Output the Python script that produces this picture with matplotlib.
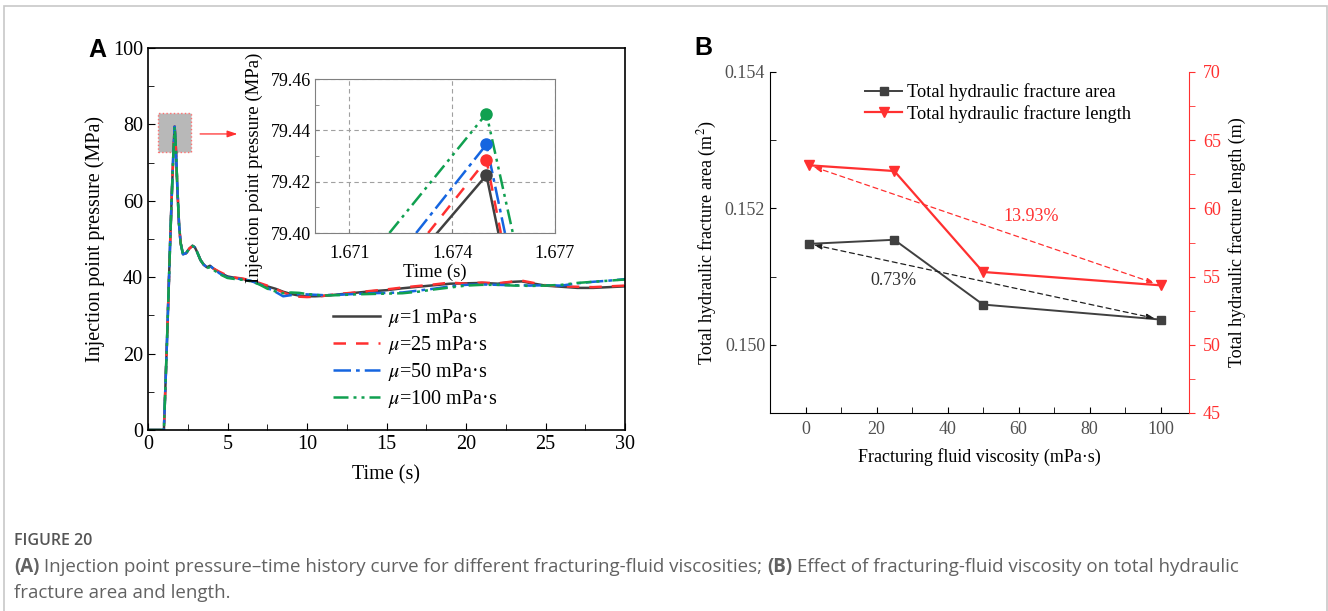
import matplotlib
matplotlib.use('Agg')
import matplotlib.pyplot as plt
from matplotlib.patches import Rectangle
from matplotlib.ticker import MultipleLocator

plt.rcParams['font.family'] = ['Liberation Serif', 'DejaVu Serif']
plt.rcParams['mathtext.fontset'] = 'stix'

# ---------------- data: panel A ----------------
time_s = [0, 1.0, 1.1, 1.2, 1.3, 1.4, 1.5, 1.6, 1.675, 1.75, 1.85, 1.95, 2.05, 2.2, 2.4,
          2.6, 2.8, 2.95, 3.1, 3.3, 3.5, 3.7, 3.9, 4.1, 4.5, 5, 5.5, 6, 6.5, 7, 7.5, 8,
          8.5, 9, 9.5, 10, 10.5, 11, 12, 13, 14, 15, 16, 17, 18, 19, 20, 21, 22, 23,
          23.5, 24, 25, 26, 27, 28, 29, 30]
p_mu1 = [0, 0, 12, 24, 37, 50, 62, 73, 79.42, 74, 63, 54, 49, 46, 46.3,
         47.5, 48.2, 47.8, 46.5, 44.5, 43.3, 42.6, 43.0, 42.3, 41.2, 40.2, 39.8, 39.5, 39.0, 38.3, 37.6, 37.0,
         36.2, 35.6, 35.2, 35.0, 35.0, 35.1, 35.5, 35.9, 36.3, 36.6, 37.1, 37.5, 37.9, 38.3, 38.4, 38.5, 38.3, 38.8,
         38.9, 38.5, 37.8, 37.5, 37.2, 37.2, 37.4, 37.6]
p_mu25 = [0, 0, 12, 24, 37, 50, 62, 73, 79.43, 74, 63, 54, 49, 46, 46.3,
          47.5, 48.2, 47.8, 46.5, 44.5, 43.3, 42.6, 43.0, 42.3, 41.4, 40.4, 39.9, 39.6, 39.1, 38.5, 37.8, 37.0,
          36.0, 35.2, 34.9, 34.8, 34.9, 35.1, 35.6, 36.0, 36.4, 36.8, 37.3, 37.7, 38.1, 38.6, 38.3, 38.6, 38.4, 38.9,
          39.1, 38.7, 37.9, 37.6, 37.5, 37.4, 37.6, 37.8]
p_mu50 = [0, 0, 12, 24, 37, 50, 62, 73, 79.43, 74, 63, 54, 49, 46, 46.3,
          47.5, 48.2, 47.8, 46.5, 44.5, 43.3, 42.6, 43.0, 42.3, 41.0, 39.9, 39.7, 39.4, 39.0, 38.2, 37.2, 36.2,
          35.0, 35.3, 35.6, 35.5, 35.4, 35.3, 35.4, 35.6, 35.8, 35.9, 36.0, 36.5, 37.0, 37.6, 38.0, 38.1, 38.0, 37.9,
          37.9, 37.8, 37.9, 37.8, 38.4, 38.8, 39.1, 39.5]
p_mu100 = [0, 0, 12, 24, 37, 50, 62, 73, 79.45, 74, 63, 54, 49, 46, 46.3,
           47.5, 48.2, 47.8, 46.5, 44.5, 43.3, 42.4, 42.6, 42.0, 40.8, 39.8, 39.5, 39.3, 38.9, 38.1, 37.0, 36.3,
           35.8, 36.0, 35.9, 35.6, 35.4, 35.2, 35.3, 35.5, 35.6, 35.7, 35.8, 36.2, 36.8, 37.3, 37.8, 38.0, 38.0, 37.8,
           37.8, 37.7, 37.8, 38.0, 38.5, 38.8, 39.1, 39.4]

# inset (zoom on the peak)
inset_t_mu1 = [1.67356, 1.67500, 1.67535]
inset_p_mu1 = [79.400, 79.4225, 79.400]
inset_t_mu25 = [1.67330, 1.67500, 1.67542]
inset_p_mu25 = [79.400, 79.4285, 79.400]
inset_t_mu50 = [1.67295, 1.67500, 1.67554]
inset_p_mu50 = [79.400, 79.4345, 79.400]
inset_t_mu100 = [1.67217, 1.67500, 1.67577]
inset_p_mu100 = [79.400, 79.4465, 79.400]

legend_A = [r'$\mu$=1 mPa·s', r'$\mu$=25 mPa·s', r'$\mu$=50 mPa·s', r'$\mu$=100 mPa·s']

# ---------------- data: panel B ----------------
viscosity = [1, 25, 50, 100]
frac_area = [0.15148, 0.15154, 0.15059, 0.15037]
frac_length = [63.16, 62.74, 55.34, 54.36]
area_change_label = '0.73%'
length_change_label = '13.93%'

caption_title = 'FIGURE 20'

c_black = '#404040'
c_red = '#ff3030'
c_blue = '#1565e0'
c_green = '#10a050'

fig = plt.figure(figsize=(13.28, 6.11), dpi=100)
W, H = 1328, 611

def fr(x0, y0, x1, y1):
    return [x0 / W, 1 - y1 / H, (x1 - x0) / W, (y1 - y0) / H]

# ---------------- panel A ----------------
axA = fig.add_axes(fr(148, 48, 625, 430))
styles = [
    dict(color=c_black, ls='-'),
    dict(color=c_red, ls=(0, (5, 4))),
    dict(color=c_blue, ls=(0, (7, 2, 1.5, 2))),
    dict(color=c_green, ls=(0, (6, 2, 1.2, 2, 1.2, 2))),
]
series = [p_mu1, p_mu25, p_mu50, p_mu100]
handles = []
for p, st, lab in zip(series, styles, legend_A):
    h, = axA.plot(time_s, p, lw=1.8, label=lab, **st)
    handles.append(h)
axA.set_xlim(0, 30)
axA.set_ylim(0, 100)
axA.xaxis.set_major_locator(MultipleLocator(5))
axA.xaxis.set_minor_locator(MultipleLocator(2.5))
axA.yaxis.set_major_locator(MultipleLocator(20))
axA.yaxis.set_minor_locator(MultipleLocator(10))
axA.tick_params(which='both', direction='in', labelsize=14.5)
axA.tick_params(which='major', length=5)
axA.tick_params(which='minor', length=4)
axA.set_xlabel('Time (s)', fontsize=14.5, labelpad=8)
axA.set_ylabel('Injection point pressure (MPa)', fontsize=14.5, labelpad=6)
for s in axA.spines.values():
    s.set_linewidth(1.2)
axA.add_patch(Rectangle((0.6, 72.8), 2.1, 10.2, facecolor='#b8b8b8', edgecolor='#ff7070',
                        ls=':', lw=1.0, zorder=1))
axA.annotate('', xy=(5.8, 77.5), xytext=(3.1, 77.5),
             arrowprops=dict(arrowstyle='-|>,head_length=0.6,head_width=0.2', color='#ff3030', lw=0.9))
axA.legend(handles=handles, loc='lower left', bbox_to_anchor=(0.372, 0.03), borderaxespad=0,
           frameon=False, fontsize=14.5, handlelength=2.3, labelspacing=0.25, handletextpad=0.4)
fig.text(97 / W, 1 - 50 / H, 'A', family='Liberation Sans', weight='bold', fontsize=18,
         ha='center', va='center')

# inset
axI = fig.add_axes(fr(315, 79, 555, 233))
inset_t = [inset_t_mu1, inset_t_mu25, inset_t_mu50, inset_t_mu100]
inset_p = [inset_p_mu1, inset_p_mu25, inset_p_mu50, inset_p_mu100]
for t, p, st in zip(inset_t, inset_p, styles):
    axI.plot(t, p, lw=1.8, **st)
    axI.plot([t[1]], [p[1]], 'o', color=st['color'], ms=8, zorder=5)
axI.set_xlim(1.670, 1.677)
axI.set_ylim(79.40, 79.46)
axI.set_xticks([1.671, 1.674, 1.677])
axI.set_yticks([79.40, 79.42, 79.44, 79.46])
axI.yaxis.set_minor_locator(MultipleLocator(0.01))
axI.set_xticklabels(['1.671', '1.674', '1.677'])
axI.set_yticklabels(['79.40', '79.42', '79.44', '79.46'])
axI.grid(True, which='major', ls=(0, (4, 3)), color='#a0a0a0', lw=0.8)
axI.tick_params(which='both', direction='in', labelsize=13, length=3, color='#808080')
axI.tick_params(axis='x', pad=9)
axI.tick_params(axis='y', pad=3)
for s in axI.spines.values():
    s.set_color('#808080')
axI.set_xlabel('Time (s)', fontsize=13.5, labelpad=1)
axI.set_ylabel('Injection point pressure (MPa)', fontsize=13.5)
axI.yaxis.set_label_coords(-0.215, 0.425)

# ---------------- panel B ----------------
axB = fig.add_axes(fr(770, 72, 1189, 413))
axB.plot(viscosity, frac_area, color=c_black, marker='s', ms=6, lw=1.4,
         label='Total hydraulic fracture area')
axB.set_xlim(-10, 108)
axB.set_ylim(0.149, 0.154)
axB.set_yticks([0.150, 0.152, 0.154])
axB.set_yticklabels(['0.150', '0.152', '0.154'])
axB.yaxis.set_minor_locator(MultipleLocator(0.001))
axB.xaxis.set_major_locator(MultipleLocator(20))
axB.xaxis.set_minor_locator(MultipleLocator(10))
axB.tick_params(which='both', direction='in', labelsize=13, labelcolor='#505050', length=4)
axB.tick_params(axis='x', pad=6)
axB.spines['top'].set_visible(False)
axB.spines['right'].set_visible(False)
axB.set_xlabel('Fracturing fluid viscosity (mPa·s)', fontsize=13, labelpad=7)
axB.set_ylabel('Total hydraulic fracture area (m$^2$)', fontsize=13, labelpad=4)
axB.annotate('', xy=(viscosity[-1], frac_area[-1]), xytext=(viscosity[0], frac_area[0]),
             arrowprops=dict(arrowstyle='<|-|>,head_length=0.5,head_width=0.15', color='#202020',
                             lw=0.9, ls=(0, (4, 3)), shrinkA=3, shrinkB=4))
axB.text(24.7, 0.15094, area_change_label, fontsize=13, color='#303030', ha='center', va='center')

ax2 = axB.twinx()
ax2.plot(viscosity, frac_length, color=c_red, marker='v', ms=7, lw=1.6,
         label='Total hydraulic fracture length')
ax2.set_ylim(45, 70)
ax2.yaxis.set_major_locator(MultipleLocator(5))
ax2.yaxis.set_minor_locator(MultipleLocator(2.5))
ax2.tick_params(which='both', direction='out', labelsize=13, colors=c_red, length=4)
ax2.tick_params(axis='y', pad=6)
ax2.spines['top'].set_visible(False)
ax2.spines['left'].set_visible(False)
ax2.spines['bottom'].set_visible(False)
ax2.spines['right'].set_color(c_red)
ax2.set_ylabel('Total hydraulic fracture length (m)', fontsize=13, labelpad=5)
ax2.annotate('', xy=(viscosity[-1], frac_length[-1]), xytext=(viscosity[0], frac_length[0]),
             arrowprops=dict(arrowstyle='<|-|>,head_length=0.5,head_width=0.15', color=c_red,
                             lw=0.9, ls=(0, (4, 3)), shrinkA=3, shrinkB=4))
ax2.text(63.5, 59.44, length_change_label, fontsize=13, color=c_red, ha='center', va='center')
h1, l1 = axB.get_legend_handles_labels()
h2, l2 = ax2.get_legend_handles_labels()
ax2.legend(h1 + h2, l1 + l2, loc='upper center', bbox_to_anchor=(0.545, 1.015), frameon=False,
           fontsize=13.2, handlelength=2.0, handletextpad=0.3, labelspacing=0.2)
fig.text(703 / W, 1 - 48 / H, 'B', family='Liberation Sans', weight='bold', fontsize=18,
         ha='center', va='center')

# ---------------- caption & border ----------------
cap_font = ['Open Sans', 'DejaVu Sans']
cap_col = '#626262'
fig.text(14 / W, 1 - 541 / H, caption_title, family=cap_font, fontsize=11.5, color='#555555',
         weight='semibold', va='center')

renderer = fig.canvas.get_renderer()

def rich_line(x_px, y_px, pieces, size):
    x = x_px
    for txt, bold in pieces:
        t = fig.text(x / W, 1 - y_px / H, txt, family=cap_font, fontsize=size, color=cap_col,
                     weight='bold' if bold else 'normal', va='center')
        bb = t.get_window_extent(renderer=renderer)
        x += bb.width

rich_line(14, 567, [('(A)', True),
                    (' Injection point pressure\u2013time history curve for different fracturing-fluid viscosities; ', False),
                    ('(B)', True),
                    (' Effect of fracturing-fluid viscosity on total hydraulic', False)], 13.5)
rich_line(14, 593, [('fracture area and length.', False)], 13.5)

border = Rectangle((4 / W, -0.1), (1327 - 4) / W, 1.1 - 6 / H, transform=fig.transFigure,
                   fill=False, edgecolor='#c8c8c8', lw=1.2)
fig.patches.append(border)

fig.savefig('out.png', dpi=100)
